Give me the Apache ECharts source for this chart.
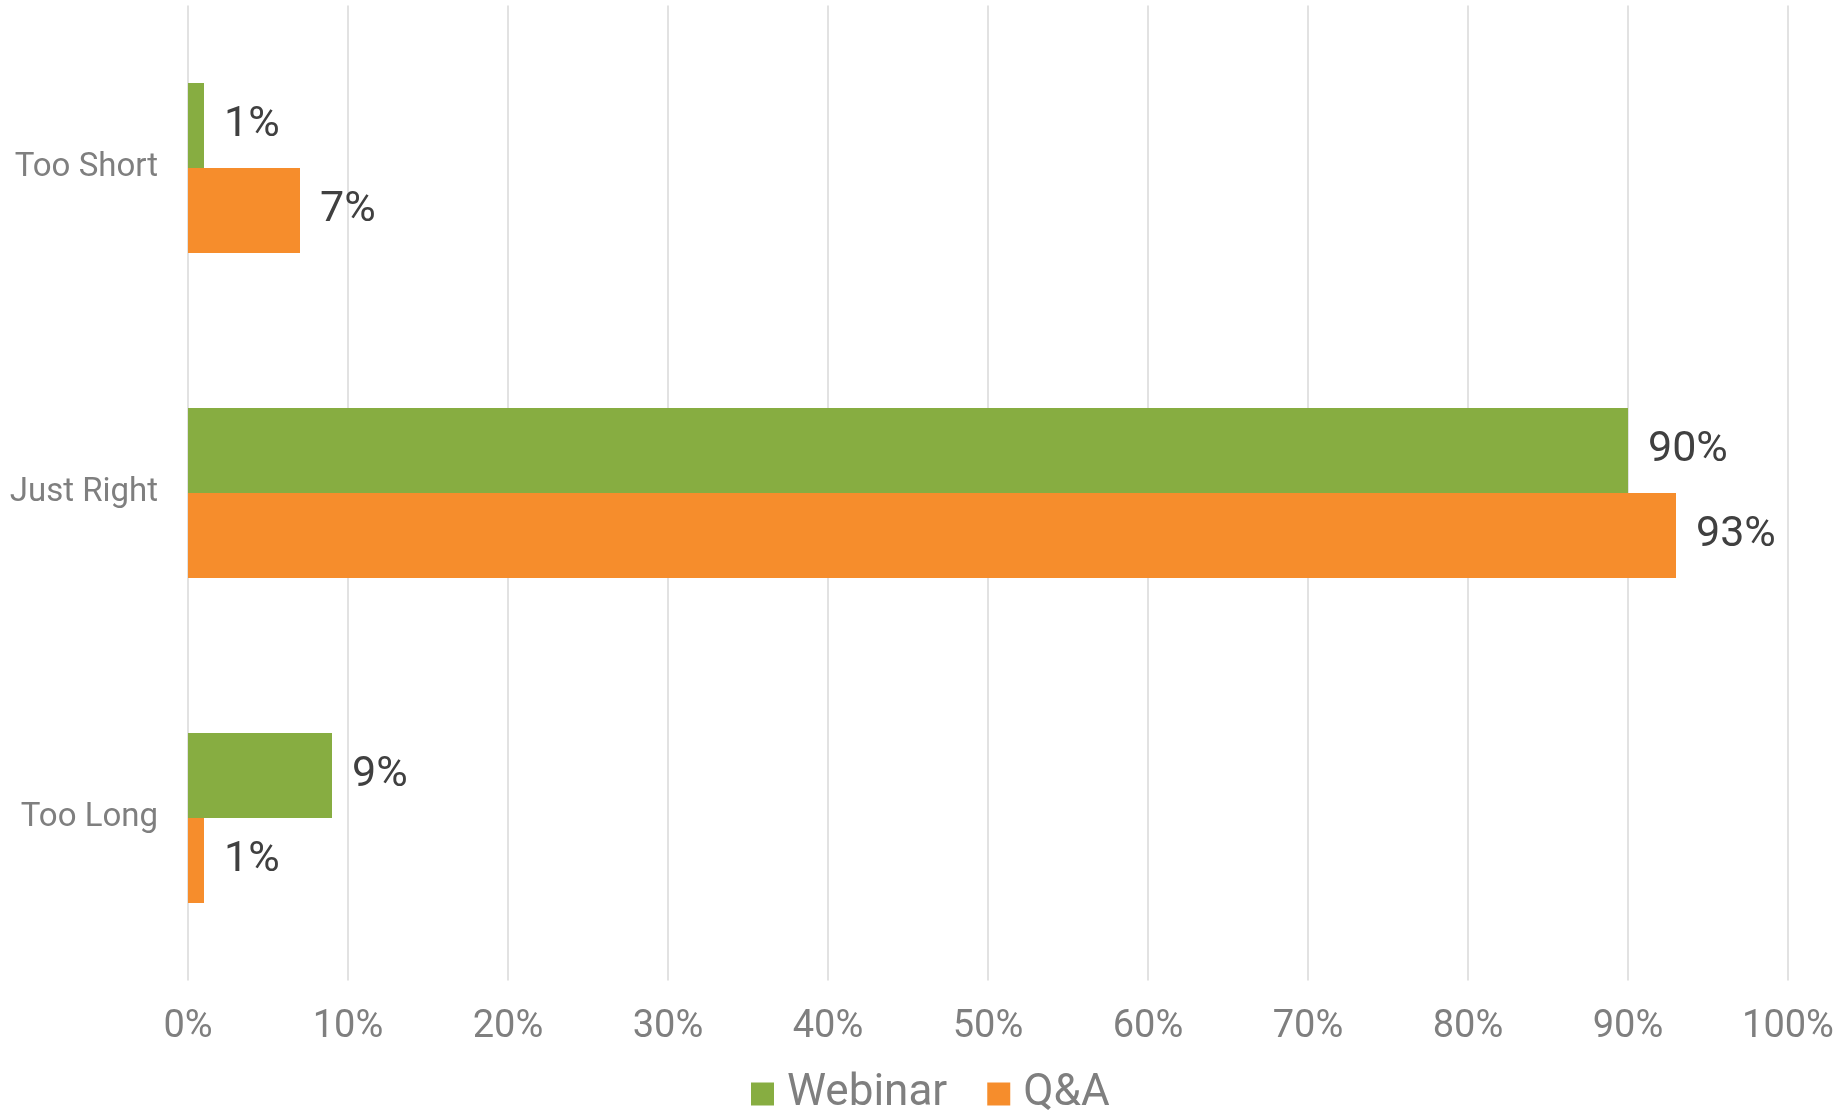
<!DOCTYPE html>
<html>
<head>
<meta charset="utf-8">
<script src="https://cdn.jsdelivr.net/npm/echarts@6/dist/echarts.min.js"></script>
<style>
html,body{margin:0;padding:0;background:#fff;}
#chart{width:1843px;height:1110px;}
</style>
</head>
<body>
<div id="chart"></div>
<script>
const categories = ['Too Short', 'Just Right', 'Too Long'];
const webinarValues = [1, 90, 9];
const qaValues = [7, 93, 1];
const xTickMin = 0, xTickMax = 100, xTickStep = 10;

const FONT = 'Roboto';
const chart = echarts.init(document.getElementById('chart'), null, {renderer: 'canvas'});
const labelCfg = {
  show: true,
  position: 'right',
  distance: 20,
  formatter: p => p.value + '%',
  fontFamily: FONT,
  fontSize: 43,
  color: '#404040'
};
chart.setOption({
  animation: false,
  textStyle: {fontFamily: FONT},
  grid: {left: 188, right: 55, top: 5.5, bottom: 129.5, containLabel: false},
  legend: {
    data: ['Webinar', 'Q&A'],
    left: 746,
    top: 1067,
    itemWidth: 23,
    itemHeight: 23,
    itemGap: 40,
    icon: 'rect',
    textStyle: {fontFamily: FONT, fontSize: 44, color: '#7f7f7f', padding: [0, 0, 0, 8]}
  },
  xAxis: {
    type: 'value',
    min: xTickMin,
    max: xTickMax,
    interval: xTickStep,
    axisLine: {show: false},
    axisTick: {show: false},
    splitLine: {show: true, lineStyle: {color: '#e2e2e2', width: 2}},
    axisLabel: {formatter: v => v + '%', fontFamily: FONT, fontSize: 38, color: '#7f7f7f', margin: 28}
  },
  yAxis: {
    type: 'category',
    data: categories,
    inverse: true,
    axisLine: {show: false},
    axisTick: {show: false},
    axisLabel: {fontFamily: FONT, fontSize: 33, color: '#7f7f7f', margin: 30}
  },
  series: [
    {name: 'Webinar', type: 'bar', data: webinarValues, barGap: '0%', barCategoryGap: '47.7%',
     itemStyle: {color: '#87ad41'}, label: labelCfg},
    {name: 'Q&A', type: 'bar', data: qaValues, barGap: '0%', barCategoryGap: '47.7%',
     itemStyle: {color: '#f68d2c'}, label: labelCfg}
  ]
});
</script>
</body>
</html>
